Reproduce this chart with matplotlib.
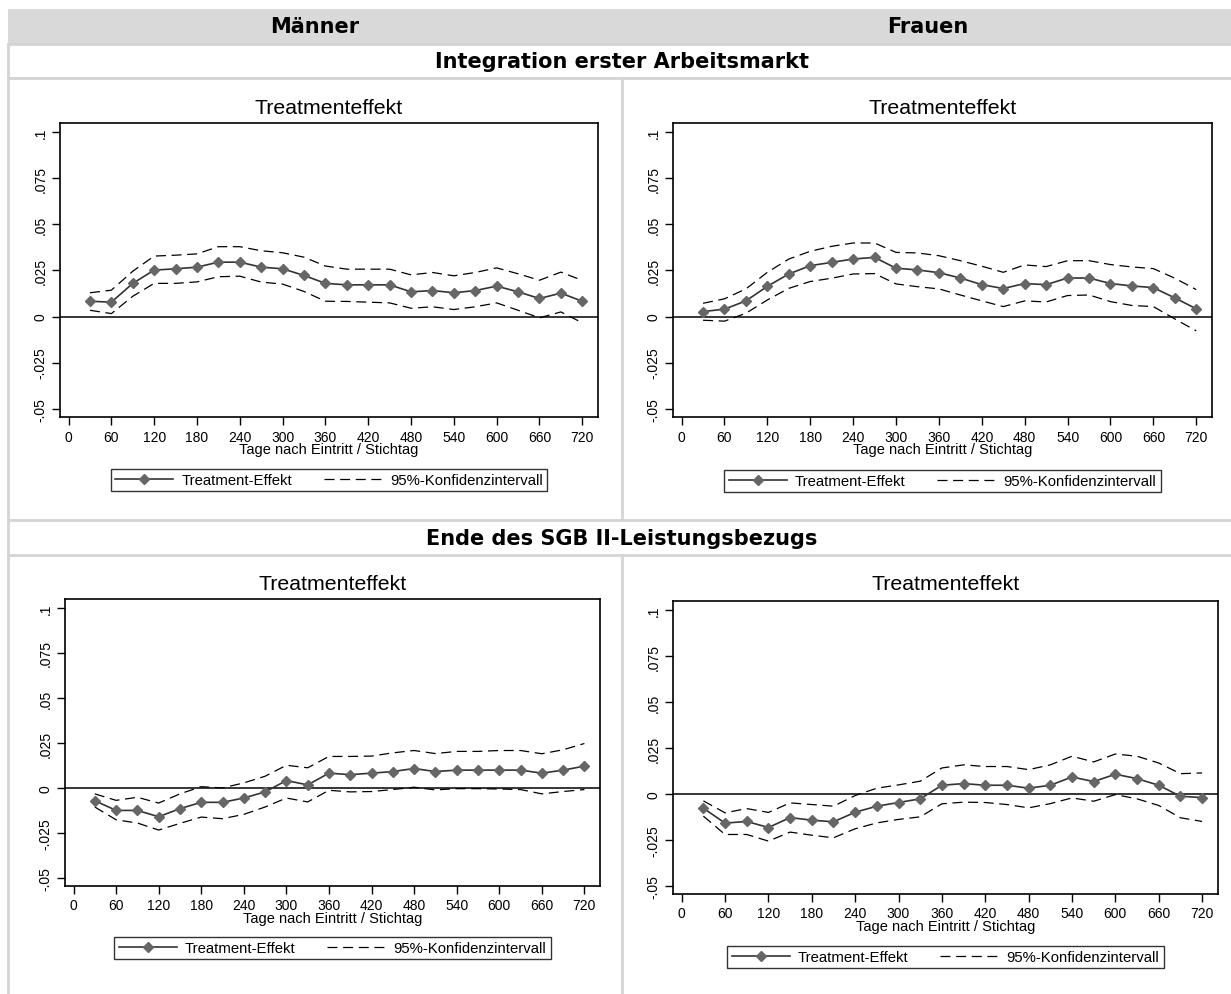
import matplotlib
matplotlib.use("Agg")
import matplotlib.pyplot as plt
from matplotlib.lines import Line2D
from matplotlib.patches import Rectangle

W, H = 1231, 995

days = [30, 60, 90, 120, 150, 180, 210, 240, 270, 300, 330, 360,
        390, 420, 450, 480, 510, 540, 570, 600, 630, 660, 690, 720]

# Integration erster Arbeitsmarkt - Männer
m_int_te = [0.0083, 0.0078, 0.0180, 0.0252, 0.0259, 0.0268, 0.0295, 0.0295, 0.0268, 0.0259, 0.0223, 0.0180,
            0.0172, 0.0172, 0.0172, 0.0134, 0.0141, 0.0129, 0.0141, 0.0165, 0.0134, 0.0098, 0.0127, 0.0083]
m_int_hi = [0.0129, 0.0143, 0.0246, 0.0328, 0.0333, 0.0340, 0.0379, 0.0379, 0.0357, 0.0346, 0.0322, 0.0274,
            0.0257, 0.0257, 0.0257, 0.0226, 0.0239, 0.0221, 0.0239, 0.0264, 0.0232, 0.0197, 0.0241, 0.0196]
m_int_lo = [0.0034, 0.0016, 0.0110, 0.0180, 0.0180, 0.0188, 0.0216, 0.0219, 0.0187, 0.0176, 0.0136, 0.0083,
            0.0082, 0.0078, 0.0074, 0.0045, 0.0053, 0.0038, 0.0053, 0.0074, 0.0034, -0.0007, 0.0025, -0.0034]

# Integration erster Arbeitsmarkt - Frauen
f_int_te = [0.0027, 0.0040, 0.0085, 0.0164, 0.0231, 0.0276, 0.0294, 0.0312, 0.0321, 0.0262, 0.0253, 0.0238,
            0.0209, 0.0173, 0.0152, 0.0179, 0.0173, 0.0209, 0.0209, 0.0179, 0.0166, 0.0157, 0.0101, 0.0042]
f_int_hi = [0.0072, 0.0096, 0.0150, 0.0240, 0.0312, 0.0354, 0.0381, 0.0399, 0.0399, 0.0348, 0.0345, 0.0330,
            0.0303, 0.0273, 0.0240, 0.0280, 0.0271, 0.0303, 0.0303, 0.0282, 0.0269, 0.0260, 0.0208, 0.0146]
f_int_lo = [-0.0020, -0.0025, 0.0018, 0.0090, 0.0153, 0.0190, 0.0208, 0.0231, 0.0233, 0.0177, 0.0162, 0.0150,
            0.0117, 0.0085, 0.0054, 0.0085, 0.0079, 0.0114, 0.0117, 0.0081, 0.0060, 0.0054, -0.0013, -0.0078]

# Ende des SGB II-Leistungsbezugs - Männer
m_sgb_te = [-0.0071, -0.0125, -0.0125, -0.0160, -0.0115, -0.0080, -0.0080, -0.0056, -0.0022, 0.0041, 0.0017, 0.0082,
            0.0074, 0.0082, 0.0091, 0.0108, 0.0091, 0.0099, 0.0099, 0.0099, 0.0099, 0.0082, 0.0099, 0.0121]
m_sgb_hi = [-0.0033, -0.0069, -0.0052, -0.0084, -0.0033, 0.0007, 0.0000, 0.0028, 0.0065, 0.0126, 0.0112, 0.0175,
            0.0175, 0.0177, 0.0195, 0.0208, 0.0191, 0.0203, 0.0203, 0.0208, 0.0208, 0.0190, 0.0212, 0.0247]
m_sgb_lo = [-0.0106, -0.0177, -0.0195, -0.0234, -0.0197, -0.0162, -0.0171, -0.0147, -0.0106, -0.0056, -0.0078, -0.0013,
            -0.0022, -0.0020, -0.0009, 0.0004, -0.0011, -0.0004, -0.0004, -0.0006, -0.0009, -0.0033, -0.0020, -0.0009]

# Ende des SGB II-Leistungsbezugs - Frauen
f_sgb_te = [-0.0078, -0.0159, -0.0150, -0.0183, -0.0129, -0.0143, -0.0152, -0.0100, -0.0067, -0.0047, -0.0027, 0.0047,
            0.0056, 0.0047, 0.0047, 0.0031, 0.0047, 0.0092, 0.0067, 0.0107, 0.0083, 0.0047, -0.0013, -0.0020]
f_sgb_hi = [-0.0038, -0.0103, -0.0080, -0.0101, -0.0049, -0.0058, -0.0067, -0.0009, 0.0031, 0.0049, 0.0069, 0.0141,
            0.0158, 0.0149, 0.0149, 0.0132, 0.0158, 0.0205, 0.0174, 0.0217, 0.0205, 0.0168, 0.0110, 0.0114]
f_sgb_lo = [-0.0121, -0.0221, -0.0221, -0.0257, -0.0208, -0.0225, -0.0239, -0.0190, -0.0158, -0.0139, -0.0125, -0.0054,
            -0.0045, -0.0047, -0.0058, -0.0076, -0.0053, -0.0022, -0.0040, -0.0004, -0.0027, -0.0063, -0.0130, -0.0150]

col_headers = ["Männer", "Frauen"]
row_headers = ["Integration erster Arbeitsmarkt", "Ende des SGB II-Leistungsbezugs"]
panel_title = "Treatmenteffekt"
x_label = "Tage nach Eintritt / Stichtag"
x_ticks = [0, 60, 120, 180, 240, 300, 360, 420, 480, 540, 600, 660, 720]
y_ticks = [-0.05, -0.025, 0, 0.025, 0.05, 0.075, 0.1]
y_tick_labels = ["-.05", "-.025", "0", ".025", ".05", ".075", ".1"]
legend_labels = ["Treatment-Effekt", "95%-Konfidenzintervall"]

plt.rcParams['font.family'] = ['Liberation Sans', 'DejaVu Sans']

fig = plt.figure(figsize=(W / 100, H / 100), dpi=100)


def fx(x):
    return x / W


def fy(y):
    return 1 - y / H


# header band and separators
fig.patches.append(Rectangle((fx(8), fy(45)), fx(W - 8), 35 / H, transform=fig.transFigure,
                             facecolor="#d9d9d9", edgecolor="none", zorder=0))
sep_col = "#d4d4d4"
for yy in [45, 79, 521, 556]:
    fig.lines.append(Line2D([fx(8), 1], [fy(yy), fy(yy)], transform=fig.transFigure, color=sep_col, lw=2))
fig.lines.append(Line2D([fx(8), fx(8)], [fy(45), 0], transform=fig.transFigure, color=sep_col, lw=2))
for (y0, y1) in [(79, 521), (556, 995)]:
    fig.lines.append(Line2D([fx(622), fx(622)], [fy(y0), fy(y1)], transform=fig.transFigure, color=sep_col, lw=2))

hdr_font = dict(family=['DejaVu Sans'], fontweight='bold', fontsize=15, color='black', ha='center', va='center')
fig.text(fx(315), fy(27), col_headers[0], **hdr_font)
fig.text(fx(928), fy(27), col_headers[1], **hdr_font)
fig.text(fx(622), fy(62), row_headers[0], **hdr_font)
fig.text(fx(622), fy(539), row_headers[1], **hdr_font)

panels = [
    ((60, 124, 598, 418), m_int_te, m_int_lo, m_int_hi, 108, 481),
    ((673, 124, 1212, 418), f_int_te, f_int_lo, f_int_hi, 108, 482),
    ((65, 600, 600, 887), m_sgb_te, m_sgb_lo, m_sgb_hi, 585, 949),
    ((673, 602, 1218, 895), f_sgb_te, f_sgb_lo, f_sgb_hi, 585, 958),
]

dash = (0, (8, 4.5))

for (x0, y0, x1, y1), te, lo, hi, ty, ly in panels:
    ax = fig.add_axes([fx(x0), fy(y1), (x1 - x0) / W, (y1 - y0) / H])
    ax.axhline(0, color='black', lw=1.1, zorder=1)
    ax.plot(days, hi, color='black', lw=0.9, linestyle=dash, zorder=2)
    ax.plot(days, lo, color='black', lw=0.9, linestyle=dash, zorder=2)
    ax.plot(days, te, color='#333333', lw=1.2, marker='D', markersize=5.5,
            markerfacecolor='#666666', markeredgecolor='#666666', zorder=3)
    ax.set_xlim(-12, 742)
    ax.set_ylim(-0.0545, 0.105)
    ax.set_xticks(x_ticks)
    ax.set_xticklabels([str(t) for t in x_ticks])
    ax.set_yticks(y_ticks)
    ax.set_yticklabels(y_tick_labels, rotation=90, va='center')
    ax.tick_params(axis='both', labelsize=10, length=6, width=1, direction='out', pad=3)
    for s in ax.spines.values():
        s.set_linewidth(1.2)
    ax.set_xlabel(x_label, fontsize=10.5, labelpad=-1)
    fig.text(fx((x0 + x1) / 2), fy(ty), panel_title, fontsize=15.3, ha='center', va='center')
    h1 = Line2D([], [], color='#333333', lw=1.2, marker='D', markersize=5,
                markerfacecolor='#666666', markeredgecolor='#666666')
    h2 = Line2D([], [], color='black', lw=0.9, linestyle=dash)
    leg = fig.legend([h1, h2], legend_labels, loc='center', ncol=2,
                     bbox_to_anchor=(fx((x0 + x1) / 2), fy(ly)), bbox_transform=fig.transFigure,
                     fontsize=10.7, frameon=True, fancybox=False, edgecolor='black',
                     handlelength=3.9, columnspacing=2.15, borderpad=0.3, handletextpad=0.55,
                     numpoints=1)
    leg.get_frame().set_linewidth(1.0)

fig.savefig("out.png", dpi=100, facecolor='white')
